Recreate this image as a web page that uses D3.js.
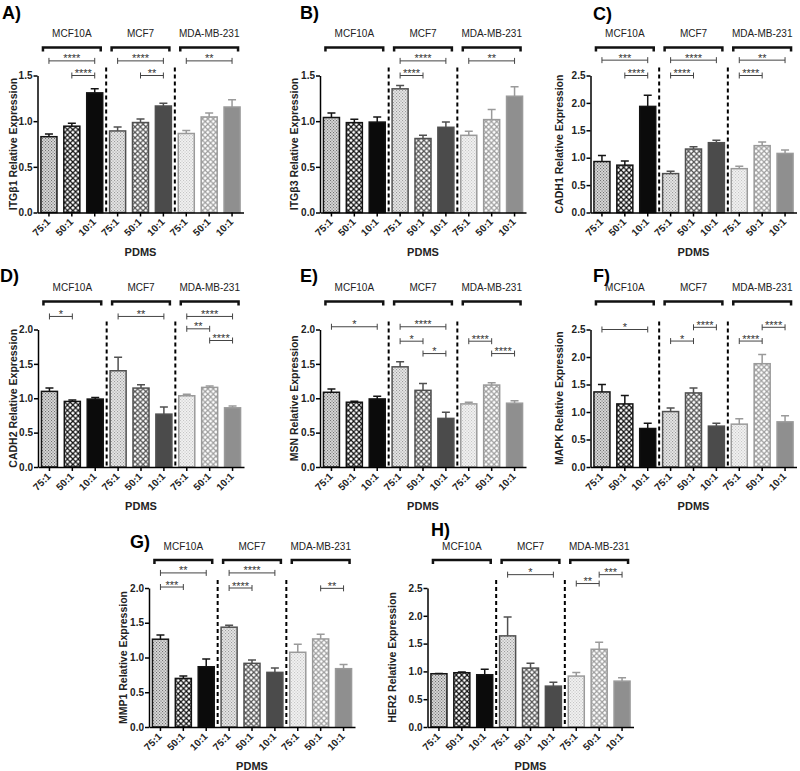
<!DOCTYPE html>
<html><head><meta charset="utf-8">
<script src="https://cdn.jsdelivr.net/npm/d3@7"></script>
<style>body{margin:0;background:#fff}svg{display:block}</style>
</head><body>
<svg id="chart" width="800" height="771"></svg>
<script>
// ---------------- DATA ----------------
const panelLetters = ["A)","B)","C)","D)","E)","F)","G)","H)"];
const genes = ["ITGβ1","ITGβ3","CADH1","CADH2","MSN","MAPK","MMP1","HER2"];
const cellLines = ["MCF10A","MCF7","MDA-MB-231"];
const ratios = ["75:1","50:1","10:1"];
const xTitle = "PDMS";
const yMax = [1.5,1.5,2.5,2.0,2.0,2.5,2.0,2.5];

// means per panel: MCF10A(75,50,10), MCF7(75,50,10), MDA-MB-231(75,50,10)
const means = [
  [0.83,0.945,1.31, 0.893,0.985,1.166, 0.865,1.046,1.155],
  [1.04,0.984,0.99, 1.354,0.81,0.933, 0.845,1.017,1.273],
  [0.93,0.864,1.936, 0.71,1.158,1.274, 0.80,1.22,1.078],
  [1.10,0.954,0.988, 1.40,1.148,0.769, 1.036,1.158,0.861],
  [1.087,0.942,0.99, 1.457,1.115,0.707, 0.918,1.192,0.928],
  [1.365,1.147,0.70, 1.008,1.347,0.743, 0.779,1.878,0.821],
  [1.263,0.699,0.867, 1.436,0.916,0.786, 1.075,1.267,0.839],
  [0.958,0.976,0.94, 1.639,1.06,0.735, 0.916,1.398,0.825]
];
const errors = [
  [0.03,0.032,0.045, 0.044,0.04,0.03, 0.032,0.044,0.08],
  [0.05,0.036,0.056, 0.036,0.035,0.057, 0.045,0.11,0.103],
  [0.11,0.076,0.204, 0.044,0.042,0.046, 0.046,0.067,0.062],
  [0.048,0.019,0.022, 0.196,0.049,0.102, 0.024,0.022,0.025],
  [0.048,0.015,0.04, 0.073,0.101,0.091, 0.024,0.034,0.034],
  [0.135,0.153,0.097, 0.067,0.09,0.054, 0.097,0.169,0.109],
  [0.062,0.034,0.111, 0.029,0.048,0.062, 0.115,0.068,0.061],
  [0.006,0.012,0.10, 0.341,0.085,0.072, 0.066,0.126,0.061]
];
// significance: [group, fromBar, toBar, label, y value]
const sigs = [
  [[0,0,2,"****",1.66],[0,1,2,"****",1.5],[1,0,2,"****",1.66],[1,1,2,"**",1.5],[2,0,2,"**",1.66]],
  [[1,0,2,"****",1.66],[1,0,1,"****",1.5],[2,0,2,"**",1.66]],
  [[0,0,2,"***",2.78],[0,1,2,"****",2.5],[1,0,2,"****",2.78],[1,0,1,"****",2.5],[2,0,2,"**",2.78],[2,0,1,"****",2.5]],
  [[0,0,1,"*",2.19],[1,0,2,"**",2.19],[2,0,2,"****",2.19],[2,0,1,"**",2.01],[2,1,2,"****",1.84]],
  [[0,0,2,"*",2.04],[1,0,2,"****",2.04],[1,0,1,"*",1.83],[1,1,2,"*",1.65],[2,0,1,"****",1.83],[2,1,2,"****",1.65]],
  [[0,0,2,"*",2.5],[1,0,1,"*",2.29],[1,1,2,"****",2.54],[2,0,1,"****",2.29],[2,1,2,"****",2.54]],
  [[0,0,2,"**",2.217],[0,0,1,"***",2.014],[1,0,2,"****",2.217],[1,0,1,"****",2.0],[2,1,2,"**",1.995]],
  [[1,0,2,"*",2.74],[2,0,1,"**",2.58],[2,1,2,"***",2.74]]
];

// ---------------- LAYOUT / STYLE ----------------
const layout = [
  {left:37.5, top:75.5, bottom:212.5, titleX:14,  lx:2,   ly:18.5},
  {left:320,  top:75.5, bottom:212.5, titleX:295, lx:300, ly:18.5},
  {left:590.5,top:75.5, bottom:212.5, titleX:560, lx:593, ly:19.5},
  {left:38,   top:329.5,bottom:467,   titleX:14,  lx:0,   ly:282},
  {left:320,  top:329.5,bottom:467,   titleX:295, lx:300, ly:282},
  {left:590.5,top:329.5,bottom:467,   titleX:560, lx:593, ly:282},
  {left:149,  top:588,  bottom:727,   titleX:124, lx:130, ly:548},
  {left:427.5,top:588,  bottom:727,   titleX:393, lx:431, ly:536}
];
const plotW = 206;
const groupStyle = [
  {stroke:"#141414", dotBg:"#d9d9d9", dot:"#6f6f6f", dia:"#111111", solid:"#0b0b0b"},
  {stroke:"#505050", dotBg:"#e6e6e6", dot:"#9a9a9a", dia:"#545454", solid:"#4b4b4b"},
  {stroke:"#9a9a9a", dotBg:"#f2f2f2", dot:"#c6c6c6", dia:"#9e9e9e", solid:"#8f8f8f"}
];
const FONT = "'Liberation Sans', Arial, Helvetica, sans-serif";

const svg = d3.select("#chart");
svg.append("rect").attr("width",800).attr("height",771).attr("fill","#fff");
const defs = svg.append("defs");
groupStyle.forEach((g,gi)=>{
  const p1 = defs.append("pattern").attr("id","dot"+gi).attr("patternUnits","userSpaceOnUse")
    .attr("width",3).attr("height",3);
  p1.append("rect").attr("width",3).attr("height",3).attr("fill",g.dotBg);
  p1.append("rect").attr("x",0).attr("y",0).attr("width",1.1).attr("height",1.1).attr("fill",g.dot);
  p1.append("rect").attr("x",1.5).attr("y",1.5).attr("width",1.1).attr("height",1.1).attr("fill",g.dot);
  const s = 5.4, h = 1.85;
  const p2 = defs.append("pattern").attr("id","dia"+gi).attr("patternUnits","userSpaceOnUse")
    .attr("width",s).attr("height",s);
  p2.append("rect").attr("width",s).attr("height",s).attr("fill",g.dia);
  [[s/2,s/2],[0,0],[s,0],[0,s],[s,s]].forEach(([cx,cy])=>{
    p2.append("polygon").attr("points",`${cx},${cy-h} ${cx+h},${cy} ${cx},${cy+h} ${cx-h},${cy}`).attr("fill","#fff");
  });
});
function fillFor(i){
  const g = Math.floor(i/3), r = i%3;
  return r===0 ? `url(#dot${g})` : r===1 ? `url(#dia${g})` : groupStyle[g].solid;
}

panelLetters.forEach((letter,pi)=>{
  const L = layout[pi];
  const gEl = svg.append("g");
  const x = d3.scaleBand().domain(d3.range(9)).range([L.left, L.left+plotW])
    .paddingInner(0.3).paddingOuter(0.15);
  const y = d3.scaleLinear().domain([0,yMax[pi]]).range([L.bottom, L.top]);
  const cx = i => x(i) + x.bandwidth()/2;
  const data = means[pi].map((m,i)=>({i, m, e:errors[pi][i]}));

  // panel letter
  gEl.append("text").attr("x",L.lx).attr("y",L.ly).text(letter)
    .attr("font-family",FONT).attr("font-weight","bold").attr("font-size",18).attr("fill","#000");

  // dashed separators
  [3,6].forEach(k=>{
    const xs = (x(k-1)+x.bandwidth() + x(k))/2;
    gEl.append("line").attr("x1",xs).attr("x2",xs).attr("y1",L.top-8).attr("y2",L.bottom)
      .attr("stroke","#000").attr("stroke-width",2).attr("stroke-dasharray","4,3");
  });

  // bars
  gEl.selectAll("rect.bar").data(data).join("rect").attr("class","bar")
    .attr("x",d=>x(d.i)).attr("width",x.bandwidth())
    .attr("y",d=>y(d.m)).attr("height",d=>y(0)-y(d.m))
    .attr("fill",d=>fillFor(d.i))
    .attr("stroke",d=>groupStyle[Math.floor(d.i/3)].stroke).attr("stroke-width",1.5);

  // error bars (upper)
  gEl.selectAll("path.err").data(data).join("path").attr("class","err")
    .attr("d",d=>`M${cx(d.i)},${y(d.m)}V${y(d.m+d.e)}M${cx(d.i)-4},${y(d.m+d.e)}H${cx(d.i)+4}`)
    .attr("fill","none").attr("stroke",d=>groupStyle[Math.floor(d.i/3)].stroke).attr("stroke-width",1.5);

  // axes
  const yAx = gEl.append("g").attr("transform",`translate(${L.left},0)`)
    .call(d3.axisLeft(y).tickValues(d3.range(0,yMax[pi]+0.01,0.5)).tickFormat(d3.format(".1f"))
      .tickSize(4).tickSizeOuter(0));
  const xAx = gEl.append("g").attr("transform",`translate(0,${L.bottom})`)
    .call(d3.axisBottom(x).tickFormat(i=>ratios[i%3]).tickSize(4).tickSizeOuter(0));
  [yAx,xAx].forEach(a=>{
    a.selectAll("path,line").attr("stroke","#000").attr("stroke-width",1.5);
    a.selectAll("text").attr("font-family",FONT).attr("font-weight","bold").attr("fill","#222");
  });
  yAx.selectAll("text").attr("font-size",10).attr("x",-5);
  xAx.selectAll("text").attr("font-size",10)
    .attr("text-anchor","end").attr("dy",null).attr("y",0).attr("x",0)
    .attr("transform","translate(2,10) rotate(-45)");

  // axis titles
  gEl.append("text").attr("transform",`translate(${L.titleX},${(L.top+L.bottom)/2}) rotate(-90)`)
    .attr("text-anchor","middle").attr("dominant-baseline","middle")
    .attr("font-family",FONT).attr("font-weight","bold").attr("font-size",10.5).attr("fill","#222")
    .text(genes[pi]+" Relative Expression");
  gEl.append("text").attr("x",L.left+plotW/2).attr("y",L.bottom+43)
    .attr("text-anchor","middle")
    .attr("font-family",FONT).attr("font-weight","bold").attr("font-size",11).attr("fill","#222")
    .text(xTitle);

  // group headers and brackets
  cellLines.forEach((name,gi)=>{
    const x0 = cx(gi*3)-6, x1 = cx(gi*3+2)+6, by = L.top-28;
    gEl.append("text").attr("x",cx(gi*3+1)).attr("y",L.top-38.5).attr("text-anchor","middle")
      .attr("font-family",FONT).attr("font-size",10).attr("fill","#222").text(name);
    gEl.append("path").attr("d",`M${x0},${by+4}V${by}H${x1}V${by+4}`)
      .attr("fill","none").attr("stroke","#111").attr("stroke-width",2.5);
  });

  // significance bars
  sigs[pi].forEach(([g,a,b,lab,v])=>{
    const x0 = cx(g*3+a), x1 = cx(g*3+b), yy = y(v);
    gEl.append("path").attr("d",`M${x0},${yy-3}V${yy+3}M${x0},${yy}H${x1}M${x1},${yy-3}V${yy+3}`)
      .attr("fill","none").attr("stroke","#444").attr("stroke-width",1);
    gEl.append("text").attr("x",(x0+x1)/2).attr("y",yy+1.5).attr("text-anchor","middle")
      .attr("font-family",FONT).attr("font-size",11).attr("fill","#333").text(lab);
  });
});
</script>
</body></html>
